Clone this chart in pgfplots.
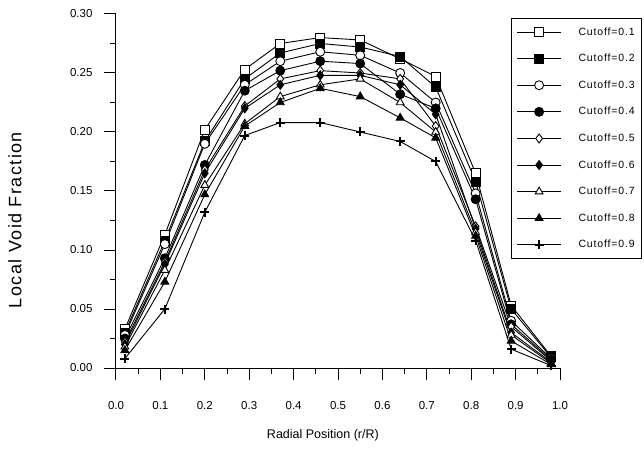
\documentclass[border=0pt]{standalone}
\usepackage{pgfplots}
\pgfplotsset{compat=1.18}
\usepackage{pgfplotstable}
\usepackage{fontspec}
\setmainfont{Liberation Sans}
\newfontfamily\spacedfont[LetterSpace=8]{Liberation Sans}

\pgfplotstableread{
x    c1    c2    c3    c4    c5    c6    c7    c8    c9
0.02 0.033 0.030 0.028 0.025 0.022 0.020 0.018 0.015 0.008
0.11 0.113 0.108 0.105 0.093 0.090 0.088 0.083 0.073 0.050
0.20 0.202 0.192 0.190 0.172 0.168 0.165 0.155 0.147 0.132
0.29 0.253 0.245 0.240 0.235 0.222 0.220 0.207 0.205 0.197
0.37 0.275 0.267 0.260 0.252 0.245 0.240 0.230 0.225 0.208
0.46 0.280 0.275 0.268 0.260 0.252 0.248 0.240 0.237 0.208
0.55 0.278 0.272 0.265 0.258 0.250 0.248 0.245 0.230 0.200
0.64 0.262 0.264 0.250 0.232 0.245 0.240 0.225 0.212 0.192
0.72 0.247 0.238 0.225 0.220 0.205 0.215 0.200 0.195 0.175
0.81 0.165 0.158 0.148 0.143 0.120 0.118 0.115 0.112 0.108
0.89 0.053 0.050 0.040 0.037 0.035 0.030 0.028 0.023 0.016
0.98 0.010 0.009 0.008 0.007 0.006 0.005 0.004 0.003 0.002
}\data

\begin{document}
\begin{tikzpicture}
\useasboundingbox (-116pt,-92pt) rectangle (528pt,368pt);
\begin{axis}[
  scale only axis, width=444pt, height=354pt,
  xmin=0, xmax=1, ymin=0, ymax=0.30,
  axis x line=bottom, axis y line=left,
  axis line style={-, line width=1pt},
  xtick={0,0.1,0.2,0.3,0.4,0.5,0.6,0.7,0.8,0.9,1.0},
  ytick={0,0.05,0.10,0.15,0.20,0.25,0.30},
  minor x tick num=1, minor y tick num=1,
  tick align=outside, major tick length=12pt, minor tick length=6pt,
  tick style={black, line width=1pt},
  /pgf/number format/assume math mode=true,
  xticklabel style={/pgf/number format/fixed, /pgf/number format/fixed zerofill, /pgf/number format/precision=1, yshift=-18pt},
  yticklabel style={/pgf/number format/fixed, /pgf/number format/fixed zerofill, /pgf/number format/precision=2, xshift=-8pt},
  ticklabel style={font=\fontsize{11.5}{12}\selectfont},
  xlabel={Radial Position (r/R)},
  ylabel={Local Void Fraction},
  every axis x label/.style={at={(axis description cs:0.466,-0.189)}, anchor=center, font=\fontsize{12.5}{14}\selectfont},
  every axis y label/.style={at={(axis description cs:-0.2275,0.418)}, anchor=center, rotate=90, font=\spacedfont\fontsize{18}{20}\selectfont},
  every axis plot/.append style={black, line width=0.9pt},
  mark size=4.5pt,
  legend cell align=left,
  legend style={at={(axis description cs:0.89,0.9887)}, anchor=north west,
    draw=black, line width=1pt, font=\spacedfont\fontsize{10.5}{11}\selectfont,
    row sep=13.5pt, inner xsep=5pt, inner ysep=7pt},
  legend image code/.code={\draw[mark repeat=2,mark phase=2] plot coordinates {(0pt,0pt) (22pt,0pt) (44pt,0pt)}; \path (59pt,0pt);},
]
\addplot[mark=square*, mark options={fill=white, solid}] table[x=x,y=c1]{\data};
\addlegendentry{Cutoff=0.1}
\addplot[mark=square*, mark options={fill=black, solid}] table[x=x,y=c2]{\data};
\addlegendentry{Cutoff=0.2}
\addplot[mark=*, mark options={fill=white, solid}] table[x=x,y=c3]{\data};
\addlegendentry{Cutoff=0.3}
\addplot[mark=*, mark options={fill=black, solid}] table[x=x,y=c4]{\data};
\addlegendentry{Cutoff=0.4}
\addplot[mark=diamond*, mark options={fill=white, solid}] table[x=x,y=c5]{\data};
\addlegendentry{Cutoff=0.5}
\addplot[mark=diamond*, mark options={fill=black, solid}] table[x=x,y=c6]{\data};
\addlegendentry{Cutoff=0.6}
\addplot[mark=triangle*, mark options={fill=white, solid}] table[x=x,y=c7]{\data};
\addlegendentry{Cutoff=0.7}
\addplot[mark=triangle*, mark options={fill=black, solid}] table[x=x,y=c8]{\data};
\addlegendentry{Cutoff=0.8}
\addplot[mark=+, mark options={line width=2pt, solid}] table[x=x,y=c9]{\data};
\addlegendentry{Cutoff=0.9}
\end{axis}
\end{tikzpicture}
\end{document}
